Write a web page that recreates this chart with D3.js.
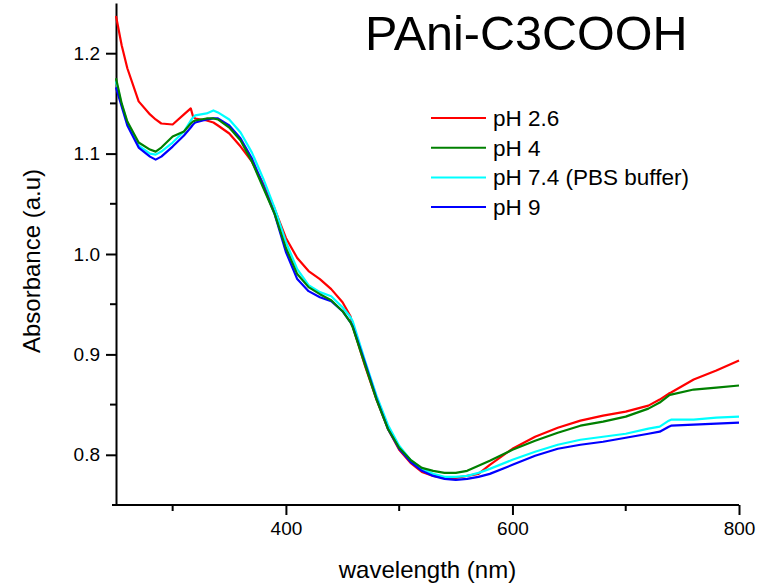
<!DOCTYPE html>
<html>
<head>
<meta charset="utf-8">
<script src="https://cdn.jsdelivr.net/npm/d3@7"></script>
<style>
    body { margin: 0; background: #fff; }
    text { font-family: "Liberation Sans", Arial, sans-serif; fill: #000; }
</style>
</head>
<body>
<svg id="chart"></svg>
<script>
// wavelength grid (nm)
const wavelengths = [250, 255, 260, 270, 280, 285, 290, 300, 310, 316, 318, 320, 330, 336, 340, 350, 360, 370, 380, 390,
    400, 410, 420, 430, 440, 450, 457, 459, 470, 480, 490, 500, 510, 520, 530, 540, 550, 560, 570, 580,
    600, 620, 640, 660, 680, 700, 720, 730, 738, 740, 760, 780, 800];

const ph26 = [1.237, 1.208, 1.185, 1.152, 1.139, 1.134, 1.130, 1.129, 1.139, 1.145, 1.137, 1.135, 1.133, 1.131, 1.128, 1.120, 1.107, 1.092, 1.070, 1.045,
    1.016, 0.996, 0.983, 0.975, 0.965, 0.952, 0.938, 0.928, 0.888, 0.855, 0.826, 0.805, 0.792, 0.783, 0.779, 0.777, 0.777, 0.779, 0.781, 0.790,
    0.806, 0.818, 0.827, 0.834, 0.839, 0.843, 0.849, 0.855, 0.861, 0.862, 0.875, 0.884, 0.894];

const ph4 = [1.175, 1.150, 1.132, 1.111, 1.104, 1.102, 1.106, 1.117, 1.122, 1.130, 1.132, 1.133, 1.135, 1.135, 1.134, 1.126, 1.113, 1.092, 1.066, 1.040,
    1.006, 0.980, 0.967, 0.960, 0.954, 0.943, 0.932, 0.927, 0.889, 0.855, 0.826, 0.807, 0.795, 0.787, 0.784, 0.782, 0.782, 0.784, 0.789, 0.794,
    0.805, 0.814, 0.822, 0.829, 0.833, 0.838, 0.846, 0.852, 0.859, 0.860, 0.865, 0.867, 0.869];

const ph74 = [1.172, 1.149, 1.131, 1.108, 1.100, 1.099, 1.102, 1.111, 1.122, 1.133, 1.136, 1.138, 1.140, 1.143, 1.141, 1.134, 1.121, 1.101, 1.075, 1.046,
    1.012, 0.985, 0.969, 0.962, 0.958, 0.947, 0.937, 0.933, 0.893, 0.859, 0.830, 0.809, 0.795, 0.786, 0.781, 0.778, 0.778, 0.779, 0.782, 0.786,
    0.795, 0.803, 0.810, 0.815, 0.818, 0.821, 0.826, 0.828, 0.834, 0.835, 0.835, 0.837, 0.838];

const ph9 = [1.166, 1.147, 1.128, 1.106, 1.097, 1.094, 1.097, 1.107, 1.118, 1.126, 1.129, 1.131, 1.134, 1.135, 1.135, 1.128, 1.115, 1.095, 1.068, 1.040,
    1.002, 0.975, 0.963, 0.957, 0.953, 0.943, 0.932, 0.928, 0.891, 0.856, 0.826, 0.806, 0.793, 0.784, 0.779, 0.776, 0.775, 0.776, 0.778, 0.781,
    0.790, 0.799, 0.806, 0.810, 0.813, 0.817, 0.821, 0.823, 0.828, 0.829, 0.830, 0.831, 0.832];

const seriesNames = ["pH 2.6", "pH 4", "pH 7.4 (PBS buffer)", "pH 9"];
const seriesColors = ["#ff0000", "#008000", "#00ffff", "#0000ff"];
const xTicks = [400, 600, 800];
const yTicks = [0.8, 0.9, 1.0, 1.1, 1.2];

const W = 760, H = 586;
const margin = { top: 3, right: 21, bottom: 81, left: 116 };
const width = W - margin.left - margin.right;
const height = H - margin.top - margin.bottom;

const svg = d3.select("#chart").attr("width", W).attr("height", H);
const g = svg.append("g").attr("transform", `translate(${margin.left},${margin.top})`);

const x = d3.scaleLinear().domain([250, 800]).range([0, width]);
const y = d3.scaleLinear().domain([0.75, 1.25]).range([height, 0]);

// minor ticks
const xMinor = d3.range(300, 801, 100).filter(v => !xTicks.includes(v));
const yMinor = d3.range(0.85, 1.25, 0.1);

g.append("g")
    .attr("transform", `translate(0,${height})`)
    .selectAll("line").data(xMinor).join("line")
    .attr("x1", d => x(d)).attr("x2", d => x(d))
    .attr("y1", 0).attr("y2", 6)
    .attr("stroke", "#000").attr("stroke-width", 2);

g.append("g")
    .selectAll("line").data(yMinor).join("line")
    .attr("x1", 0).attr("x2", -6)
    .attr("y1", d => y(d)).attr("y2", d => y(d))
    .attr("stroke", "#000").attr("stroke-width", 2);

// axes
const xAxis = g.append("g")
    .attr("transform", `translate(0,${height})`)
    .call(d3.axisBottom(x).tickValues(xTicks).tickSize(10).tickPadding(7).tickSizeOuter(0));

const yAxis = g.append("g")
    .call(d3.axisLeft(y).tickValues(yTicks).tickFormat(d3.format(".1f")).tickSize(10).tickPadding(6).tickSizeOuter(0));

[xAxis, yAxis].forEach(a => {
    a.select(".domain").attr("stroke", "#000").attr("stroke-width", 2);
    a.selectAll(".tick line").attr("stroke", "#000").attr("stroke-width", 2);
    a.selectAll(".tick text").attr("font-size", 19).attr("font-family", "Liberation Sans, Arial, sans-serif").attr("fill", "#000");
});
xAxis.select(".domain").attr("d", `M-4,0H${width}`);

// lines, drawn with green on top
const seriesValues = [ph26, ph4, ph74, ph9];
const order = [0, 2, 3, 1];
const line = d3.line()
    .x((d, i) => x(wavelengths[i]))
    .y(d => y(d));

order.forEach(k => {
    g.append("path")
        .datum(seriesValues[k])
        .attr("fill", "none")
        .attr("stroke", seriesColors[k])
        .attr("stroke-width", 2.2)
        .attr("stroke-linejoin", "round")
        .attr("d", line);
});

// legend
const legend = svg.append("g").attr("transform", "translate(431,118)");
seriesNames.forEach((name, i) => {
    const row = legend.append("g").attr("transform", `translate(0,${i * 29.7})`);
    row.append("line")
        .attr("x1", 0).attr("x2", 55)
        .attr("stroke", seriesColors[i]).attr("stroke-width", 2);
    row.append("text")
        .attr("x", 62).attr("y", 8)
        .attr("font-size", 22.5)
        .text(name);
});

// titles
svg.append("text")
    .attr("x", 365).attr("y", 50)
    .attr("font-size", 48.5)
    .text("PAni-C3COOH");

svg.append("text")
    .attr("x", margin.left + width / 2).attr("y", 578)
    .attr("text-anchor", "middle")
    .attr("font-size", 24)
    .text("wavelength (nm)");

svg.append("text")
    .attr("transform", `translate(40,${margin.top + 258}) rotate(-90)`)
    .attr("text-anchor", "middle")
    .attr("font-size", 24)
    .text("Absorbance (a.u)");
</script>
</body>
</html>
